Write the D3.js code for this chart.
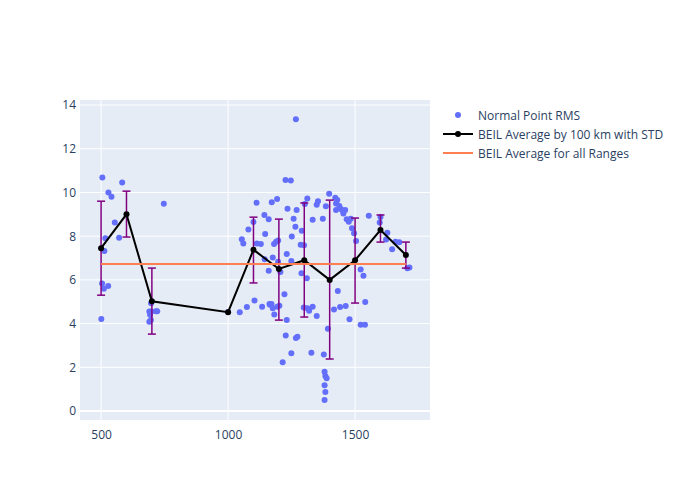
<!DOCTYPE html>
<html><head><meta charset="utf-8">
<script src="https://cdn.jsdelivr.net/npm/d3@7"></script>
<style>body{margin:0;background:#fff}</style>
</head><body><svg id="c" width="700" height="500"></svg>
<script>
// Normal point RMS scatter (range km, rms)
const ptX = [505,529,541,583,747,554,517,571,513,504,511,528,501,
  697,690,698,716,721,690,696,693,1000,
  1046,1074,1104,1134,1165,1163,1171,1176,1182,1194,1202,1222,1231,1227,1215,1249,1267,1273,
  1054,1060,1080,1100,1113,1129,1143,1160,1146,1181,1189,1197,1176,1144,1160,1197,1206,1231,1249,1258,1265,1251,1286,1299,1290,1310,1289,1333,1373,
  1112,1172,1193,1234,1270,1226,1247,1267,1312,1302,
  1298,1312,1319,1333,1349,1328,1377,1393,1432,1417,1441,1463,1478,
  1380,1383,1388,1380,1383,1380,
  1349,1354,1385,1398,1422,1430,1425,1438,1425,1444,1452,1461,1454,1467,1475,1483,1488,1496,1504,
  1522,1533,1554,1600,1597,1627,1646,1659,1674,1622,1706,1714,1540,1522,1539];
const ptY = [10.69,10.0,9.8,10.45,9.48,8.63,7.91,7.93,7.32,5.84,5.6,5.72,4.21,
  4.93,4.55,4.55,4.57,4.57,4.09,4.16,4.4,4.53,
  4.52,4.76,5.06,4.77,4.86,4.9,4.9,4.7,4.42,4.77,4.82,5.34,4.16,3.46,2.23,2.64,3.34,3.4,
  7.86,7.67,8.31,8.65,7.67,7.64,8.97,8.78,8.1,7.64,7.75,7.8,7.03,6.94,6.42,6.83,6.36,7.18,6.86,8.8,8.43,7.98,7.61,7.58,8.25,6.07,6.3,8.75,8.8,
  9.53,9.55,9.7,9.26,9.2,10.57,10.55,13.35,9.72,9.47,
  4.74,4.7,4.59,4.77,4.35,2.67,2.59,3.77,5.49,4.65,4.76,4.8,4.2,
  1.8,1.6,1.5,1.18,0.87,0.5,
  9.44,9.6,9.37,9.94,9.76,9.65,9.5,9.38,9.2,9.24,9.16,9.2,9.04,8.77,8.66,8.8,8.36,8.13,7.78,
  6.48,6.19,8.94,8.88,8.62,8.16,7.4,7.75,7.72,7.85,6.53,6.57,4.99,3.95,3.95];
// BEIL average by 100 km with STD
const avgX = [500,600,700,1000,1100,1200,1300,1400,1500,1600,1700];
const avgY = [7.45,9.0,5.02,4.52,7.38,6.5,6.9,6.0,6.9,8.28,7.14];
const avgHi = [9.6,10.06,6.54,null,8.87,8.78,9.52,9.65,8.83,8.97,7.73];
const avgLo = [5.3,7.96,3.52,null,5.86,4.16,4.3,2.38,4.94,7.73,6.54];
// BEIL average for all ranges
const allX = [500,1700];
const allY = [6.73,6.73];
const xTicks = [500,1000,1500];
const yTicks = [0,2,4,6,8,10,12,14];
const legendLabels = ["Normal Point RMS","BEIL Average by 100 km with STD","BEIL Average for all Ranges"];

const svg = d3.select("#c");
const L=80, R=430, T=100, B=420;
const x = d3.scaleLinear().domain([417,1795]).range([L,R]);
const y = d3.scaleLinear().domain([-0.41,14.23]).range([B,T]);
const font = "'Open Sans', 'Noto Sans', sans-serif";
const txt = "#2a3f5f";

svg.append("rect").attr("x",L).attr("y",T).attr("width",R-L).attr("height",B-T).attr("fill","#E5ECF6");
const g = svg.append("g");
g.selectAll(".gx").data(xTicks).join("line").attr("x1",d=>x(d)).attr("x2",d=>x(d)).attr("y1",T).attr("y2",B).attr("stroke","#fff").attr("stroke-width",1);
g.selectAll(".gy").data(yTicks).join("line").attr("x1",L).attr("x2",R).attr("y1",d=>y(d)).attr("y2",d=>y(d)).attr("stroke","#fff").attr("stroke-width",d=>d===0?2:1);

const xa = svg.append("g").attr("transform",`translate(0,${B})`).call(d3.axisBottom(x).tickValues(xTicks).tickFormat(d3.format("d")).tickSize(0).tickPadding(10));
const ya = svg.append("g").attr("transform",`translate(${L},0)`).call(d3.axisLeft(y).tickValues(yTicks).tickFormat(d3.format("d")).tickSize(0).tickPadding(4));
[xa,ya].forEach(a=>{a.select(".domain").remove();a.selectAll("text").attr("fill",txt).style("font-family",font).style("font-size","12px");});

const pts = ptX.map((d,i)=>[d,ptY[i]]);
svg.append("g").selectAll("circle").data(pts).join("circle").attr("cx",d=>x(d[0])).attr("cy",d=>y(d[1])).attr("r",3).attr("fill","#636efa");

const eb = svg.append("g").attr("stroke","#800080").attr("stroke-width",1.5);
avgX.forEach((d,i)=>{
  if(avgHi[i]==null) return;
  const cx=x(d);
  eb.append("line").attr("x1",cx).attr("x2",cx).attr("y1",y(avgHi[i])).attr("y2",y(avgLo[i]));
  eb.append("line").attr("x1",cx-4).attr("x2",cx+4).attr("y1",y(avgHi[i])).attr("y2",y(avgHi[i]));
  eb.append("line").attr("x1",cx-4).attr("x2",cx+4).attr("y1",y(avgLo[i])).attr("y2",y(avgLo[i]));
});
const line = d3.line().x(d=>x(d[0])).y(d=>y(d[1]));
svg.append("path").datum(avgX.map((d,i)=>[d,avgY[i]])).attr("d",line).attr("fill","none").attr("stroke","#000").attr("stroke-width",2);
svg.append("g").selectAll("circle").data(avgX.map((d,i)=>[d,avgY[i]])).join("circle").attr("cx",d=>x(d[0])).attr("cy",d=>y(d[1])).attr("r",3).attr("fill","#000");
svg.append("path").datum(allX.map((d,i)=>[d,allY[i]])).attr("d",line).attr("fill","none").attr("stroke","#FF7F50").attr("stroke-width",2);

const lg = svg.append("g").attr("transform","translate(443,115)");
legendLabels.forEach((t,i)=>{
  const r = lg.append("g").attr("transform",`translate(0,${i*19})`);
  if(i===0) r.append("circle").attr("cx",15).attr("cy",0).attr("r",3).attr("fill","#636efa");
  if(i===1){ r.append("line").attr("x1",0).attr("x2",30).attr("y1",0).attr("y2",0).attr("stroke","#000").attr("stroke-width",2);
    r.append("circle").attr("cx",15).attr("cy",0).attr("r",3).attr("fill","#000"); }
  if(i===2) r.append("line").attr("x1",0).attr("x2",30).attr("y1",0).attr("y2",0).attr("stroke","#FF7F50").attr("stroke-width",2);
  r.append("text").attr("x",35).attr("y",4.5).text(t).attr("fill",txt).style("font-family",font).style("font-size","12px");
});
</script></body></html>
